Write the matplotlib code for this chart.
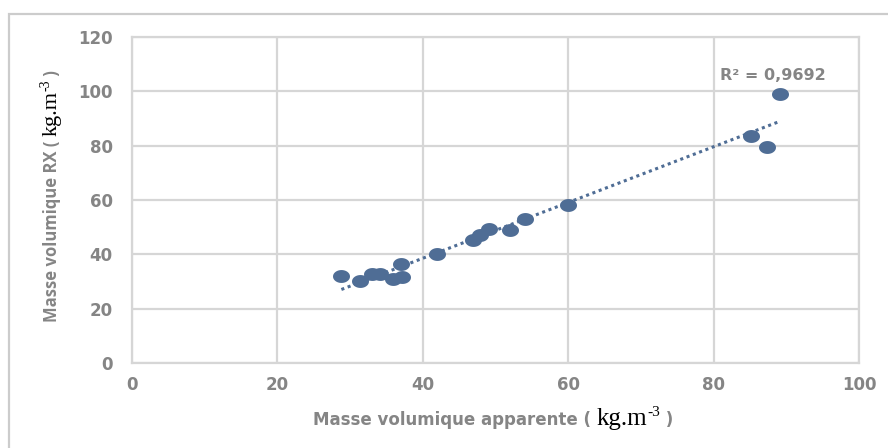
import matplotlib.pyplot as plt
import matplotlib.patches as patches
from matplotlib.path import Path
import numpy as np

# values
x_app = [28.8, 31.4, 33.0, 34.1, 35.9, 37.1, 37.0, 41.9, 46.9, 47.9, 49.1,
         52.0, 54.0, 60.0, 85.1, 87.3, 89.2]
y_rx = [31.9, 30.2, 32.7, 32.9, 30.8, 31.7, 36.3, 40.0, 45.4, 47.3, 49.4,
        48.8, 53.1, 58.0, 83.7, 79.4, 99.0]
x_ticks = [0, 20, 40, 60, 80, 100]
y_ticks = [0, 20, 40, 60, 80, 100, 120]
r2_label = "R² = 0,9692"

dot_color = "#4f6d95"
grid_color = "#d6d6d6"
text_gray = "#858585"

fig = plt.figure(figsize=(8.88, 4.48), dpi=100)
ax = fig.add_axes([132 / 888, 1 - 363 / 448, (859 - 132) / 888, (363 - 37) / 448])

# outer chart frame (only left and top visible in the reference)
fig.add_artist(patches.Rectangle((9 / 888, -0.1), 1.2, 1 - 14 / 448 + 0.1,
                                 transform=fig.transFigure, fill=False,
                                 edgecolor="#cccccc", lw=1.6))

# slightly flattened dots, as in the screenshot
t = np.linspace(0, 2 * np.pi, 40)
oval = Path(np.column_stack([np.cos(t), 0.76 * np.sin(t)]))
ax.scatter(x_app, y_rx, s=150, marker=oval, color=dot_color, zorder=3, linewidths=0)

# linear trendline
a, b = np.polyfit(x_app, y_rx, 1)
xs = np.array([min(x_app), max(x_app)])
ax.plot(xs, a * xs + b, color=dot_color, lw=2.2, ls=(0, (1, 1.2)), zorder=2)

ax.text(80.9, 105.7, r2_label, color=text_gray, fontsize=11.5, fontweight="bold",
        family="DejaVu Sans", va="center")

ax.set_xlim(0, 100)
ax.set_ylim(0, 120)
ax.set_xticks(x_ticks)
ax.set_yticks(y_ticks)
ax.grid(True, color=grid_color, lw=1.6)
ax.set_axisbelow(True)
for s in ax.spines.values():
    s.set_color(grid_color)
    s.set_linewidth(1.6)
ax.tick_params(length=0, labelsize=12, labelcolor=text_gray)
ax.tick_params(axis="x", pad=9)
ax.tick_params(axis="y", pad=14)
for lab in ax.get_xticklabels() + ax.get_yticklabels():
    lab.set_fontweight("bold")
    lab.set_family("DejaVu Sans")


def chain(pieces, x0, y0, rotation=0):
    """Place text pieces one after another; dy raises a piece (pixels)."""
    r = fig.canvas.get_renderer()
    W, H = fig.bbox.width, fig.bbox.height
    x, y = x0, y0
    for txt, kw, dy in pieces:
        if rotation == 0:
            px, py = x, y + dy / H
        else:
            px, py = x - dy / W, y
        t = fig.text(px, py, txt, rotation=rotation, va="baseline", ha="left",
                     rotation_mode="anchor", **kw)
        bb = t.get_window_extent(r)
        if rotation == 0:
            x += bb.width / W
        else:
            y += bb.height / H


x_gray = dict(color=text_gray, fontsize=12, fontweight="bold", family="DejaVu Sans")
y_gray = dict(color=text_gray, fontsize=12, fontweight="bold", family="Open Sans")
serif = dict(color="black", family="Liberation Serif")

chain([("Masse volumique apparente ( ", x_gray, 0),
       ("kg.m", dict(serif, fontsize=18), 0),
       ("-3", dict(serif, fontsize=11), 9),
       (" )", x_gray, 0)], 313 / 888, 1 - 425 / 448)

chain([("Masse volumique RX ( ", y_gray, 0),
       ("kg.m", dict(serif, fontsize=16), 0),
       ("-3", dict(serif, fontsize=10), 8),
       (" )", y_gray, 0)], 57 / 888, 1 - 322 / 448, rotation=90)

fig.savefig("out.png", dpi=100)
